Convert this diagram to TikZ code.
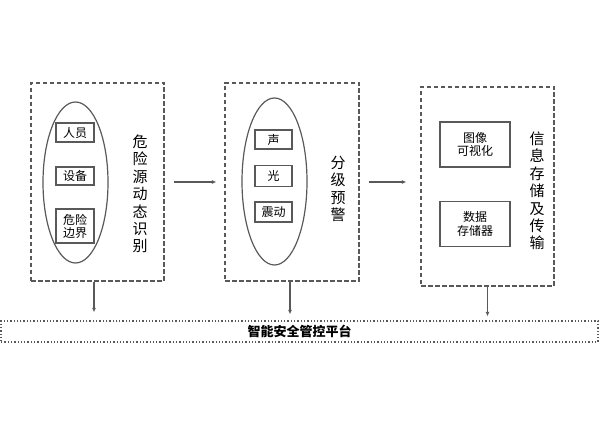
\documentclass[tikz,border=0pt]{standalone}
\usepackage{fontspec}
\newfontfamily\cjk{Noto Sans CJK SC}
\usetikzlibrary{arrows.meta,positioning,shapes.geometric}

\begin{document}
\begin{tikzpicture}[x=1pt,y=-1pt,font=\cjk\fontsize{12}{13.5}\selectfont,
   zone/.style={draw=black!65,line width=1.3pt,dash pattern=on 4.5pt off 2.5pt,
                minimum width=133pt,minimum height=198pt},
   oval/.style={draw=black!65,line width=1.2pt,ellipse,minimum width=65pt,minimum height=161pt},
   item/.style={draw=black!65,line width=1.2pt,minimum width=38pt,minimum height=19pt,
                inner sep=1pt,align=center},
   vtext/.style={align=center,font=\cjk\fontsize{15}{17.4}\selectfont},
   link/.style={-{Latex[length=4.5pt,width=4pt]},draw=black!65,line width=1.2pt}]
  \useasboundingbox (0,0) rectangle (600,430);
  % three stages
  \node[zone] (zone1) at (97.5,182) {};
  \node[zone,minimum width=134pt] (zone2) at (292,182) {};
  \node[zone,minimum height=199pt] (zone3) at (487.5,186.5) {};
  % stage 1
  \node[oval] (oval1) at (75.5,182.5) {};
  \node[item] (person) at (75,132.5) {人员};
  \node[item,minimum height=18pt] (device) at (75,176) {设备};
  \node[item,minimum height=34pt,font=\cjk\fontsize{12}{13}\selectfont] (border) at (75,226) {危险\\边界};
  \node[vtext] (ident) at (140,194) {危\\险\\源\\动\\态\\识\\别};
  % stage 2
  \node[oval,minimum height=167pt] (oval2) at (274.5,181.5) {};
  \node[item,minimum width=37pt] (sound) at (273.5,139.5) {声};
  \node[item,minimum width=37pt,minimum height=21pt] (light) at (273.5,176) {光};
  \node[item,minimum width=37pt,minimum height=20pt] (shake) at (273.5,212) {震动};
  \node[vtext] (warn) at (338,189) {分\\级\\预\\警};
  % stage 3
  \node[item,minimum width=70pt,minimum height=45pt] (image) at (475,144.5) {图像\\可视化};
  \node[item,minimum width=70pt,minimum height=45pt,below=33pt of image] (store) {数据\\存储器};
  \node[vtext] (trans) at (537,191) {信\\息\\存\\储\\及\\传\\输};
  % platform
  \node[draw=black!65,line width=1.3pt,dotted,minimum width=597pt,minimum height=21pt,
        font=\cjk\bfseries\fontsize{13}{14}\selectfont] (platform) at (299.5,331.5) {智能安全管控平台};
  % connectors
  \draw[link,shorten <=9pt,shorten >=8pt] (zone1.east) -- (zone2.west);
  \draw[link,shorten <=9pt,shorten >=14pt] (zone2.east) -- (zone2.east -| zone3.west);
  \draw[link,shorten >=8pt] ([xshift=-3.5pt]zone1.south) -- ([xshift=-3.5pt]zone1.south |- platform.north);
  \draw[link,shorten >=6pt] ([xshift=-2pt]zone2.south) -- ([xshift=-2pt]zone2.south |- platform.north);
  \draw[link,shorten >=4pt] (zone3.south) -- (zone3.south |- platform.north);
\end{tikzpicture}
\end{document}
